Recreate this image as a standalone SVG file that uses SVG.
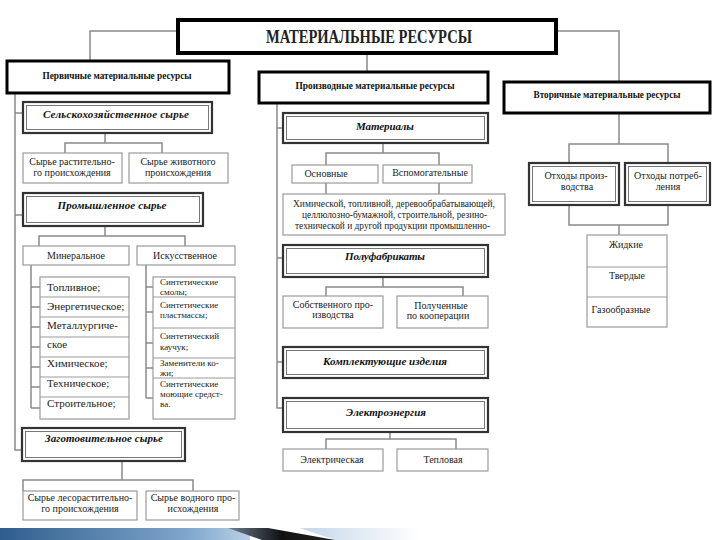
<svg xmlns="http://www.w3.org/2000/svg" width="720" height="540" viewBox="0 0 720 540">
<defs>
<linearGradient id="band" x1="0" x2="1" y1="0" y2="0"><stop offset="0" stop-color="#2f5d8c"/><stop offset="0.75" stop-color="#7fa6cc"/><stop offset="1" stop-color="#b9d0e6"/></linearGradient>
<linearGradient id="fade" x1="0" x2="1" y1="0" y2="0"><stop offset="0" stop-color="#c4d6e9"/><stop offset="1" stop-color="#ffffff"/></linearGradient>
<linearGradient id="wedge" x1="0" x2="1" y1="0" y2="0"><stop offset="0" stop-color="#6d7f92"/><stop offset="0.5" stop-color="#111"/><stop offset="1" stop-color="#222"/></linearGradient>
</defs>
<style>
.t{font-family:"Liberation Serif","Times New Roman",serif;fill:#222}
.leaf{fill:#fff;stroke:#9a9a9a;stroke-width:1.2}
.main{fill:#fff;stroke:#000;stroke-width:3}
.title{fill:#fff;stroke:#000;stroke-width:4}
.sub{fill:#fff;stroke:#333;stroke-width:2.2}
.subin{fill:none;stroke:#777;stroke-width:1}
.con{fill:none;stroke:#8a8a8a;stroke-width:1.5}
.sep{stroke:#9a9a9a;stroke-width:1}
.h{font-size:11px;font-weight:bold;fill:#111}
.hi{font-size:11px;font-weight:bold;font-style:italic;fill:#111}
.l{font-size:10px}
.li{font-size:11px}
.s{font-size:9px}
.m{text-anchor:middle}
</style>
<rect x="0" y="0" width="720" height="540" fill="#fff"/>

<g id="connectors">
<path class="con" d="M178,31 H90 V61"/>
<path class="con" d="M556,31 H619 V82"/>
<path class="con" d="M367,53 V72"/>
<path class="con" d="M15,93 V450 H22 M15,113 H23 M15,215 H23"/>
<path class="con" d="M105,133 V143 M65,153 V143 H162 V153"/>
<path class="con" d="M105,227 V236 M39,246 V236 H185 V246"/>
<path class="con" d="M31,265 V408 M31,287 H40 M31,307 H40 M31,327 H40 M31,347 H40 M31,367 H40 M31,387 H40 M31,408 H40"/>
<path class="con" d="M146,265 V398 M146,287 H153 M146,312 H153 M146,343 H153 M146,368 H153 M146,398 H153"/>
<path class="con" d="M122,461 V480 M23,491 V480 H193 V491"/>
<path class="con" d="M277,103 V408 H283 M277,128 H283 M277,258 H283 M277,362 H283"/>
<path class="con" d="M383,143 V153 M326,165 V153 H439 V165 M326,183 V194 M439,183 V194"/>
<path class="con" d="M383,277 V287 M326,296 V287 H463 V296"/>
<path class="con" d="M390,432 V439 M326,449 V439 H456 V449"/>
<path class="con" d="M619,113 V144 M569,163 V144 H668 V163"/>
<path class="con" d="M569,205 V225 H668 V205 M619,225 V235"/>
</g>

<g id="title">
<rect class="title" x="178" y="20" width="378" height="33"/>
<text class="t m" x="369" y="43" font-size="18" font-weight="bold" fill="#111" textLength="206" lengthAdjust="spacingAndGlyphs">МАТЕРИАЛЬНЫЕ РЕСУРСЫ</text>
</g>

<g id="primary">
<rect class="main" x="7" y="61" width="222" height="32"/>
<text class="t h m" x="117" y="79" textLength="149" lengthAdjust="spacingAndGlyphs">Первичные материальные ресурсы</text>
</g>
<g id="derived">
<rect class="main" x="259" y="72" width="229" height="31"/>
<text class="t h m" x="375" y="89" textLength="159" lengthAdjust="spacingAndGlyphs">Производные материальные ресурсы</text>
</g>
<g id="secondary">
<rect class="main" x="504" y="82" width="206" height="31"/>
<text class="t h m" x="607" y="98" textLength="147" lengthAdjust="spacingAndGlyphs">Вторичные материальные ресурсы</text>
</g>

<g id="agri">
<rect class="sub" x="23" y="102" width="189" height="31"/>
<rect class="subin" x="26.5" y="105.5" width="182" height="24"/>
<text class="t hi m" x="116" y="118" textLength="146" lengthAdjust="spacing">Сельскохозяйственное сырье</text>
</g>
<g id="agri-plant">
<rect class="leaf" x="23" y="153" width="99" height="30"/>
<text class="t l m" x="72" y="165">Сырье растительно-</text>
<text class="t l m" x="72" y="176">го происхождения</text>
</g>
<g id="agri-animal">
<rect class="leaf" x="129" y="153" width="99" height="30"/>
<text class="t l m" x="178" y="165">Сырье животного</text>
<text class="t l m" x="178" y="176">происхождения</text>
</g>

<g id="industrial">
<rect class="sub" x="23" y="193" width="180" height="33"/>
<rect class="subin" x="26.5" y="196.5" width="173" height="26"/>
<text class="t hi m" x="112" y="209" textLength="109" lengthAdjust="spacing">Промышленное сырье</text>
</g>
<g id="mineral">
<rect class="leaf" x="23" y="246" width="106" height="19"/>
<text class="t l m" x="76" y="259">Минеральное</text>
</g>
<g id="artificial">
<rect class="leaf" x="137" y="246" width="98" height="19"/>
<text class="t l m" x="185" y="259">Искусственное</text>
</g>
<g id="mineral-list">
<rect class="leaf" x="40" y="277" width="89" height="142"/>
<path class="sep" d="M40,297 H129 M40,317 H129 M40,337 H129 M40,357 H129 M40,377 H129 M40,397 H129"/>
<text class="t li" x="47" y="291">Топливное;</text>
<text class="t li" x="47" y="310">Энергетическое;</text>
<text class="t li" x="47" y="329">Металлургиче-</text>
<text class="t li" x="47" y="348">ское</text>
<text class="t li" x="47" y="367">Химическое;</text>
<text class="t li" x="47" y="387">Техническое;</text>
<text class="t li" x="47" y="407">Строительное;</text>
</g>
<g id="artificial-list">
<rect class="leaf" x="153" y="277" width="82" height="142"/>
<path class="sep" d="M153,297 H235 M153,328 H235 M153,358 H235 M153,378 H235"/>
<text class="t s" x="160" y="285">Синтетические</text>
<text class="t s" x="160" y="295">смолы;</text>
<text class="t s" x="160" y="308">Синтетические</text>
<text class="t s" x="160" y="318">пластмассы;</text>
<text class="t s" x="160" y="339">Синтетический</text>
<text class="t s" x="160" y="350">каучук;</text>
<text class="t s" x="160" y="366">Заменители ко-</text>
<text class="t s" x="160" y="376">жи;</text>
<text class="t s" x="160" y="387">Синтетические</text>
<text class="t s" x="160" y="397">моющие средст-</text>
<text class="t s" x="160" y="407">ва.</text>
</g>

<g id="procured">
<rect class="sub" x="22" y="428" width="163" height="33"/>
<rect class="subin" x="25.5" y="431.5" width="156" height="26"/>
<text class="t hi m" x="104" y="442" textLength="118" lengthAdjust="spacing">Заготовительное сырье</text>
</g>
<g id="procured-forest">
<rect class="leaf" x="23" y="491" width="114" height="29"/>
<text class="t l m" x="80" y="501">Сырье лесорастительно-</text>
<text class="t l m" x="80" y="512">го происхождения</text>
</g>
<g id="procured-water">
<rect class="leaf" x="146" y="491" width="93" height="29"/>
<text class="t l m" x="193" y="501">Сырье водного про-</text>
<text class="t l m" x="193" y="512">исхождения</text>
</g>

<g id="materials">
<rect class="sub" x="283" y="113" width="205" height="30"/>
<rect class="subin" x="286.5" y="116.5" width="198" height="23"/>
<text class="t hi m" x="385" y="130" textLength="58" lengthAdjust="spacing">Материалы</text>
</g>
<g id="basic">
<rect class="leaf" x="292" y="165" width="86" height="18"/>
<text class="t l m" x="326" y="177">Основные</text>
</g>
<g id="auxiliary">
<rect class="leaf" x="383" y="165" width="89" height="18"/>
<text class="t l m" x="430" y="176">Вспомогательные</text>
</g>
<g id="materials-desc">
<rect class="leaf" x="283" y="194" width="222" height="41"/>
<text class="t l m" x="394" y="207" textLength="202" lengthAdjust="spacingAndGlyphs">Химической, топливной, деревообрабатывающей,</text>
<text class="t l m" x="394.5" y="218" textLength="185" lengthAdjust="spacingAndGlyphs">целлюлозно-бумажной, строительной, резино-</text>
<text class="t l m" x="392.5" y="229" textLength="195" lengthAdjust="spacingAndGlyphs">технической и другой продукции промышленно-</text>
</g>

<g id="semi">
<rect class="sub" x="283" y="245" width="205" height="32"/>
<rect class="subin" x="286.5" y="248.5" width="198" height="25"/>
<text class="t hi m" x="385" y="260" textLength="80" lengthAdjust="spacing">Полуфабрикаты</text>
</g>
<g id="own">
<rect class="leaf" x="283" y="296" width="100" height="32"/>
<text class="t l m" x="333" y="308">Собственного про-</text>
<text class="t l m" x="333" y="318">изводства</text>
</g>
<g id="coop">
<rect class="leaf" x="397" y="296" width="91" height="32"/>
<text class="t l m" x="441" y="309">Полученные</text>
<text class="t l m" x="438" y="319">по кооперации</text>
</g>

<g id="components">
<rect class="sub" x="283" y="347" width="205" height="31"/>
<rect class="subin" x="286.5" y="350.5" width="198" height="24"/>
<text class="t hi m" x="385" y="365" textLength="124" lengthAdjust="spacing">Комплектующие изделия</text>
</g>

<g id="energy">
<rect class="sub" x="283" y="398" width="205" height="34"/>
<rect class="subin" x="286.5" y="401.5" width="198" height="27"/>
<text class="t hi m" x="386" y="416" textLength="80" lengthAdjust="spacing">Электроэнергия</text>
</g>
<g id="electric">
<rect class="leaf" x="283" y="449" width="100" height="22"/>
<text class="t l m" x="332" y="463">Электрическая</text>
</g>
<g id="thermal">
<rect class="leaf" x="397" y="449" width="91" height="22"/>
<text class="t l m" x="443" y="463">Тепловая</text>
</g>

<g id="waste-prod">
<rect class="sub" x="529" y="163" width="90" height="42"/>
<rect class="subin" x="532.5" y="166.5" width="83" height="35"/>
<text class="t l m" x="576" y="179">Отходы произ-</text>
<text class="t l m" x="577" y="190">водства</text>
</g>
<g id="waste-cons">
<rect class="sub" x="625" y="163" width="85" height="42"/>
<rect class="subin" x="628.5" y="166.5" width="78" height="35"/>
<text class="t l m" x="668" y="179">Отходы потреб-</text>
<text class="t l m" x="668" y="190">ления</text>
</g>
<g id="states">
<rect class="leaf" x="587" y="235" width="80" height="92"/>
<path class="sep" d="M587,267 H667 M587,297 H667"/>
<text class="t l m" x="626" y="248">Жидкие</text>
<text class="t l m" x="627" y="279">Твердые</text>
<text class="t l m" x="621" y="313">Газообразные</text>
</g>

<g id="decor">
<rect x="0" y="528" width="250" height="12" fill="url(#band)"/>
<polygon points="300,528 420,528 420,540 335,540" fill="url(#fade)"/>
<polygon points="228,528 268,528 335,540 262,540" fill="url(#wedge)"/>
</g>
</svg>
